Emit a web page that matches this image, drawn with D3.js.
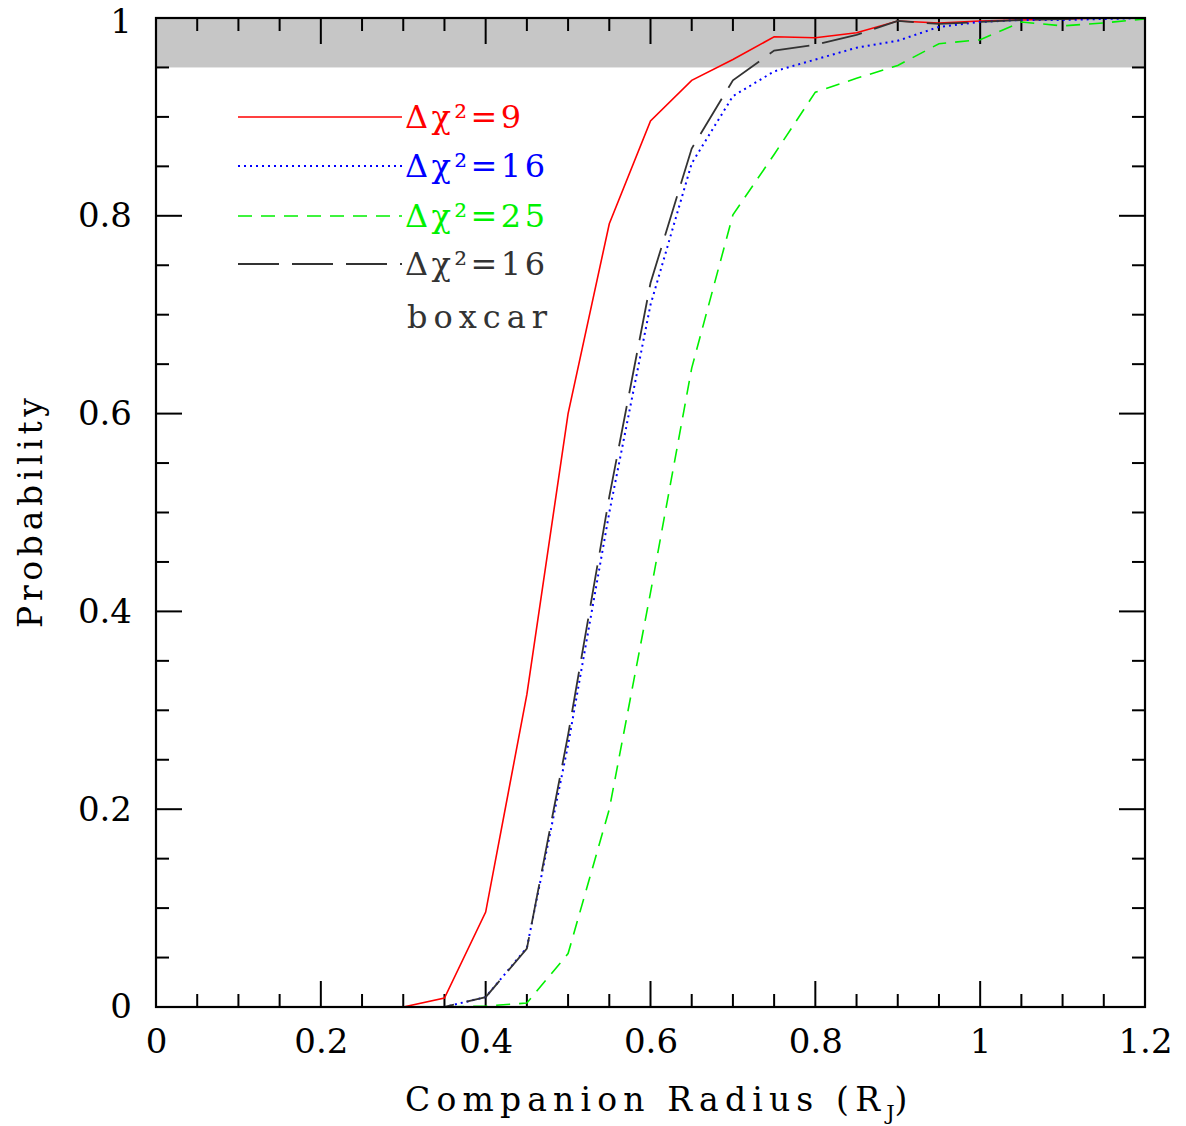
<!DOCTYPE html>
<html><head><meta charset="utf-8">
<script src="https://cdn.jsdelivr.net/npm/d3@7"></script>
<style>body{margin:0;background:#fff}svg{display:block}text{font-family:"DejaVu Serif",serif}</style>
</head><body><svg id="c" width="1186" height="1126"></svg>
<script>
const radius = [0.05,0.1,0.15,0.2,0.25,0.3,0.35,0.4,0.45,0.5,0.55,0.6,0.65,0.7,0.75,0.8,0.85,0.9,0.95,1.0,1.05,1.1,1.15,1.2];
const chi9  = [0,0,0,0,0,0,0.009,0.096,0.316,0.600,0.792,0.896,0.937,0.958,0.981,0.980,0.985,0.997,0.995,0.997,0.998,0.999,1.0,1.0];
const chi16 = [0,0,0,0,0,0,0,0.010,0.060,0.265,0.500,0.710,0.853,0.921,0.946,0.958,0.970,0.977,0.991,0.996,0.998,0.998,0.999,1.0];
const chi25 = [0,0,0,0,0,0,0,0.001,0.004,0.054,0.200,0.419,0.646,0.801,0.862,0.925,0.939,0.952,0.974,0.978,0.996,0.992,0.995,0.999];
const box16 = [0,0,0,0,0,0,0,0.010,0.059,0.275,0.516,0.732,0.868,0.937,0.967,0.973,0.983,0.997,0.994,0.996,0.998,0.999,1.0,1.0];
const xTicks = [0,0.2,0.4,0.6,0.8,1,1.2];
const yTicks = [0,0.2,0.4,0.6,0.8,1];
const legendLabels = ["Δχ²=9","Δχ²=16","Δχ²=25","Δχ²=16"];
const legendExtra = "boxcar";
const xTitle = "Companion Radius (R";
const xTitleSub = "J";
const yTitle = "Probability";
const bandMin = 0.95;

const svg = d3.select("#c");
const L=156,R=1145,T=18,B=1007;
const x = d3.scaleLinear().domain([0,1.2]).range([L,R]);
const y = d3.scaleLinear().domain([0,1]).range([B,T]);

svg.append("rect").attr("x",L).attr("y",y(1)).attr("width",R-L).attr("height",y(bandMin)-y(1)).attr("fill","#c6c6c6");

const xMinor = d3.range(0,1.2001,0.05);
const yMinor = d3.range(0,1.0001,0.05);
function isMajor(v){return Math.abs(v/0.2-Math.round(v/0.2))<1e-6;}
const tickG = svg.append("g").attr("stroke","#000").attr("stroke-width",2);
xMinor.forEach(v=>{
  const len = isMajor(v)?26:13;
  tickG.append("line").attr("x1",x(v)).attr("x2",x(v)).attr("y1",B).attr("y2",B-len);
  tickG.append("line").attr("x1",x(v)).attr("x2",x(v)).attr("y1",T).attr("y2",T+len);
});
yMinor.forEach(v=>{
  const len = isMajor(v)?26:13;
  tickG.append("line").attr("y1",y(v)).attr("y2",y(v)).attr("x1",L).attr("x2",L+len);
  tickG.append("line").attr("y1",y(v)).attr("y2",y(v)).attr("x1",R).attr("x2",R-len);
});

const fmt = d=>d===0?"0":(d===1?"1":String(d));
const gx = svg.append("g").attr("transform",`translate(0,${B})`)
  .call(d3.axisBottom(x).tickValues(xTicks).tickSize(0).tickPadding(22).tickFormat(fmt));
gx.select(".domain").remove();
gx.selectAll("text").attr("font-size",34).attr("fill","#000").attr("font-family","DejaVu Serif");
const gy = svg.append("g").attr("transform",`translate(${L},0)`)
  .call(d3.axisLeft(y).tickValues(yTicks).tickSize(0).tickPadding(24).tickFormat(fmt));
gy.select(".domain").remove();
gy.selectAll("text").attr("font-size",34).attr("fill","#000").attr("font-family","DejaVu Serif");
gy.selectAll(".tick").filter(d=>d===1).select("text").attr("dy","0.42em");

const series = [
  {v:chi9, color:"#ff0000", dash:null, w:1.6},
  {v:chi16, color:"#0000ff", dash:"2,4", w:2},
  {v:chi25, color:"#00f000", dash:"14,9", w:1.6},
  {v:box16, color:"#333333", dash:"41,13", w:1.8}
];
const line = d3.line().x((d,i)=>x(radius[i])).y(d=>y(d));
svg.append("clipPath").attr("id","pc").append("rect").attr("x",L).attr("y",T-2).attr("width",R-L).attr("height",B-T+2);
series.forEach(s=>{
  svg.append("path").datum(s.v).attr("d",line).attr("fill","none")
    .attr("stroke",s.color).attr("stroke-width",s.w).attr("stroke-dasharray",s.dash)
    .attr("clip-path","url(#pc)");
});

svg.append("rect").attr("x",L).attr("y",T).attr("width",R-L).attr("height",B-T)
  .attr("fill","none").attr("stroke","#000").attr("stroke-width",2.2);

const legY = [117,166,216,264];
const legTxtColor = ["#ff0000","#0000ff","#00f000","#333333"];
series.forEach((s,i)=>{
  svg.append("line").attr("x1",238).attr("x2",402).attr("y1",legY[i]).attr("y2",legY[i])
    .attr("stroke",s.color).attr("stroke-width",s.w).attr("stroke-dasharray",s.dash);
  svg.append("text").attr("x",405).attr("y",legY[i]+11).attr("font-size",32)
    .attr("fill",legTxtColor[i]).attr("textLength", i===0?116:140).attr("lengthAdjust","spacing")
    .text(legendLabels[i]);
});
svg.append("text").attr("x",407).attr("y",328).attr("font-size",32).attr("fill","#333333")
  .attr("textLength",140).attr("lengthAdjust","spacing").text(legendExtra);

const xt = svg.append("text").attr("x",405).attr("y",1111).attr("font-size",33).attr("fill","#000");
xt.append("tspan").attr("textLength",475).attr("lengthAdjust","spacing").text(xTitle);
xt.append("tspan").attr("font-size",21).attr("dy",9).text(xTitleSub);
xt.append("tspan").attr("dy",-9).text(")");
svg.append("text").attr("transform","translate(42,513) rotate(-90)").attr("text-anchor","middle")
  .attr("font-size",33).attr("fill","#000").attr("textLength",230).attr("lengthAdjust","spacing").text(yTitle);
</script></body></html>
